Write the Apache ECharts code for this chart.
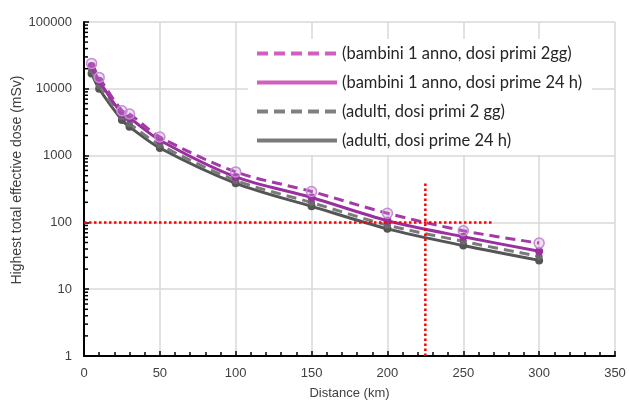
<!DOCTYPE html>
<html><head><meta charset="utf-8">
<script src="https://cdn.jsdelivr.net/npm/echarts@6/dist/echarts.min.js"></script>
<style>html,body{margin:0;padding:0;background:#fff}#c{width:629px;height:405px}</style>
</head><body><div id="c"></div><script>
// ---- data ----
const distances   = [5, 10, 25, 30, 50, 100, 150, 200, 250, 300];
const bambini2gg  = [24000, 14800, 4700, 4200, 1900, 570, 290, 137, 75, 49];
const bambini24h  = [22000, 13200, 4200, 3650, 1700, 480, 236, 106, 61, 37];
const adulti2gg   = [19000, 11200, 3800, 3000, 1450, 425, 198, 91, 52, 31];
const adulti24h   = [17000, 10000, 3400, 2700, 1300, 385, 174, 80, 45, 27];
const seriesNames = [
  '(bambini 1 anno, dosi primi 2gg)',
  '(bambini 1 anno, dosi prime 24 h)',
  '(adulti, dosi primi 2 gg)',
  '(adulti, dosi prime 24 h)'
];
const refHorizontal = [[0, 100], [270, 100]];
const refVertical   = [[225, 1], [225, 400]];
const yDecades   = [1, 10, 100, 1000, 10000];
const yMantissas = [2, 3, 4, 5, 6, 7, 8, 9];

const pairs = arr => distances.map((d, i) => [d, arr[i]]);
const yMinorTicks = [];
yDecades.forEach(dec => yMantissas.forEach(m => yMinorTicks.push([0, m * dec])));

const chart = echarts.init(document.getElementById('c'));
const labelFont = { fontFamily: 'Liberation Sans', fontSize: 13, color: '#404040' };

chart.setOption({
  animation: false,
  backgroundColor: '#fff',
  grid: { left: 84, right: 14, top: 22, bottom: 49, outerBoundsMode: 'none', containLabel: false },
  xAxis: {
    type: 'value', min: 0, max: 350, interval: 50,
    name: 'Distance (km)', nameLocation: 'middle', nameGap: 31,
    nameTextStyle: { fontFamily: 'Liberation Sans', fontSize: 13, color: '#404040' },
    axisLine: { show: true, lineStyle: { color: '#000', width: 2 } },
    axisTick: { show: true, inside: true, length: 5, lineStyle: { color: '#000', width: 1.5 } },
    minorTick: { show: true, splitNumber: 5, length: 4, lineStyle: { color: '#000', width: 1.5 } },
    splitLine: { show: true, lineStyle: { color: '#d9d9d9', width: 1.5 } },
    axisLabel: Object.assign({ margin: 11 }, labelFont)
  },
  yAxis: {
    type: 'log', logBase: 10, min: 1, max: 100000,
    name: 'Highest total effective dose (mSv)', nameLocation: 'middle', nameGap: 60,
    nameMoveOverlap: false,
    nameTextStyle: { fontFamily: 'Liberation Sans', fontSize: 14, color: '#404040', padding: [0, 0, 0, 18] },
    axisLine: { show: true, lineStyle: { color: '#000', width: 2 } },
    axisTick: { show: true, inside: true, length: 5, lineStyle: { color: '#000', width: 1.5 } },
    splitLine: { show: true, lineStyle: { color: '#d9d9d9', width: 1.5 } },
    axisLabel: Object.assign({ margin: 12, formatter: v => String(v) }, labelFont)
  },
  legend: {
    orient: 'vertical', left: 248, top: 39,
    itemWidth: 80, itemHeight: 14, itemGap: 12,
    backgroundColor: '#fff', padding: [6, 10, 6, 7],
    textStyle: { fontFamily: 'Lato', fontSize: 16.5, color: '#262626' },
    data: [
      { name: seriesNames[0], lineStyle: { color: '#d15fc0', width: 4, type: [11, 6] }, itemStyle: { color: 'rgba(0,0,0,0)', borderWidth: 0 } },
      { name: seriesNames[1], lineStyle: { color: '#d15fc0', width: 4, type: 'solid' }, itemStyle: { color: 'rgba(0,0,0,0)', borderWidth: 0 } },
      { name: seriesNames[2], lineStyle: { color: '#808080', width: 4, type: [11, 6] }, itemStyle: { color: 'rgba(0,0,0,0)', borderWidth: 0 } },
      { name: seriesNames[3], lineStyle: { color: '#7a7a7a', width: 4, type: 'solid' }, itemStyle: { color: 'rgba(0,0,0,0)', borderWidth: 0 } }
    ]
  },
  series: [
    {
      name: seriesNames[3], type: 'line', data: pairs(adulti24h), smooth: 0.3,
      lineStyle: { color: '#555555', width: 3 },
      symbol: 'circle', symbolSize: 8, itemStyle: { color: '#555555' }, z: 2
    },
    {
      name: seriesNames[2], type: 'line', data: pairs(adulti2gg), smooth: 0.3,
      lineStyle: { color: '#7a7a7a', width: 3, type: [10, 6] },
      symbol: 'circle', symbolSize: 7, itemStyle: { color: '#6a6a6a' }, z: 3
    },
    {
      name: seriesNames[1], type: 'line', data: pairs(bambini24h), smooth: 0.3,
      lineStyle: { color: '#9a2f9f', width: 3 },
      symbol: 'circle', symbolSize: 8, itemStyle: { color: '#9a2f9f' }, z: 4
    },
    {
      name: seriesNames[0], type: 'line', data: pairs(bambini2gg), smooth: 0.3,
      lineStyle: { color: '#a33aa8', width: 3, type: [10, 6] },
      symbol: 'circle', symbolSize: 10,
      itemStyle: { color: 'rgba(200,150,215,0.3)', borderColor: '#c58bd3', borderWidth: 1.5 }, z: 5
    },
    {
      name: 'refH', type: 'line', data: refHorizontal, symbol: 'none', silent: true,
      lineStyle: { color: '#ff0000', width: 2.5, type: [2.5, 2.5] }, z: 8
    },
    {
      name: 'refV', type: 'line', data: refVertical, symbol: 'none', silent: true,
      lineStyle: { color: '#ff0000', width: 2.5, type: [2.5, 2.5] }, z: 8
    },
    {
      name: 'yMinor', type: 'custom', data: yMinorTicks, silent: true, clip: false, z: 9,
      renderItem: (params, api) => {
        const p = api.coord([0, api.value(1)]);
        return { type: 'line', shape: { x1: p[0], y1: p[1], x2: p[0] + 4, y2: p[1] },
                 style: { stroke: '#000', lineWidth: 1.5 } };
      }
    }
  ]
});
</script></body></html>
